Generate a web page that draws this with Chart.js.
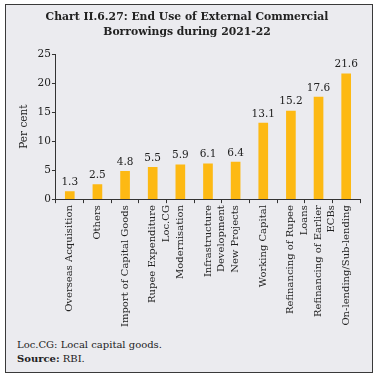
<!DOCTYPE html>
<html lang="en">
<head>
    <meta charset="UTF-8">
    <title>End Use of External Commercial Borrowings</title>
    <script src="https://cdn.jsdelivr.net/npm/chart.js"></script>
    <style>
        body {
            margin: 0;
            background: #ffffff;
            font-family: 'DejaVu Serif', serif;
        }

        .box {
            position: absolute;
            left: 5px;
            top: 4px;
            width: 366px;
            height: 367px;
            border: 1px solid #3a3a3a;
            background: #ebebef;
        }

        .chart-container {
            position: absolute;
            left: 0;
            top: 0;
            width: 366px;
            height: 324px;
        }

        .notes {
            position: absolute;
            left: 11px;
            top: 333px;
            font-family: 'DejaVu Serif', serif;
            font-size: 10px;
            line-height: 14px;
            color: #222;
        }
    </style>
</head>
<body>
    <div class="box">
        <div class="chart-container">
            <canvas id="ecbChart"></canvas>
        </div>
        <div class="notes">
            <div>Loc.CG: Local capital goods.</div>
            <div><b>Source:</b> RBI.</div>
        </div>
    </div>
    <script>
        // Data
        const categories = [
            'Overseas Acquisition',
            'Others',
            'Import of Capital Goods',
            ['Rupee Expenditure', 'Loc.CG'],
            'Modernisation',
            ['Infrastructure', 'Development'],
            'New Projects',
            'Working Capital',
            ['Refinancing of Rupee', 'Loans'],
            ['Refinancing of Earlier', 'ECBs'],
            'On-lending/Sub-lending'
        ];
        const shares = [1.3, 2.5, 4.8, 5.5, 5.9, 6.1, 6.4, 13.1, 15.2, 17.6, 21.6];
        const yTicks = [0, 5, 10, 15, 20, 25];

        // Draw value labels above bars
        const valueLabels = {
            id: 'valueLabels',
            afterDatasetsDraw(chart) {
                const ctx = chart.ctx;
                const meta = chart.getDatasetMeta(0);
                ctx.save();
                ctx.font = '10.5px "DejaVu Serif", serif';
                ctx.fillStyle = '#222';
                ctx.textAlign = 'center';
                ctx.textBaseline = 'bottom';
                meta.data.forEach((bar, i) => {
                    ctx.fillText(shares[i].toFixed(1), bar.x, bar.y - 4);
                });
                ctx.restore();
            }
        };

        const ctx = document.getElementById('ecbChart').getContext('2d');
        new Chart(ctx, {
            type: 'bar',
            data: {
                labels: categories,
                datasets: [{
                    data: shares,
                    backgroundColor: '#fdb913',
                    barThickness: 9
                }]
            },
            options: {
                responsive: true,
                maintainAspectRatio: false,
                animation: false,
                layout: { padding: { left: 8, right: 12, top: 0, bottom: 0 } },
                plugins: {
                    legend: { display: false },
                    tooltip: { enabled: false },
                    title: {
                        display: true,
                        text: ['Chart II.6.27: End Use of External Commercial', 'Borrowings during 2021-22'],
                        color: '#222',
                        font: { family: 'DejaVu Serif', size: 10.8, weight: 'bold', lineHeight: 1.35 },
                        padding: { top: 5, bottom: 15 }
                    }
                },
                scales: {
                    x: {
                        grid: {
                            display: true,
                            offset: true,
                            drawOnChartArea: false,
                            tickLength: 4,
                            color: '#333'
                        },
                        border: { color: '#333' },
                        ticks: {
                            minRotation: 90,
                            maxRotation: 90,
                            autoSkip: false,
                            color: '#222',
                            font: { family: 'DejaVu Serif', size: 10, lineHeight: 1.33 },
                            padding: 2
                        }
                    },
                    y: {
                        min: 0,
                        max: 25,
                        afterBuildTicks(axis) {
                            axis.ticks = yTicks.map(v => ({ value: v }));
                        },
                        grid: {
                            display: true,
                            drawOnChartArea: false,
                            tickLength: 4,
                            color: '#333'
                        },
                        border: { color: '#333' },
                        ticks: {
                            color: '#222',
                            font: { family: 'DejaVu Serif', size: 10.5 },
                            padding: 1
                        },
                        title: {
                            display: true,
                            text: 'Per cent',
                            color: '#222',
                            font: { family: 'DejaVu Serif', size: 10.5 },
                            padding: { bottom: 6 }
                        }
                    }
                }
            },
            plugins: [valueLabels]
        });
    </script>
</body>
</html>
